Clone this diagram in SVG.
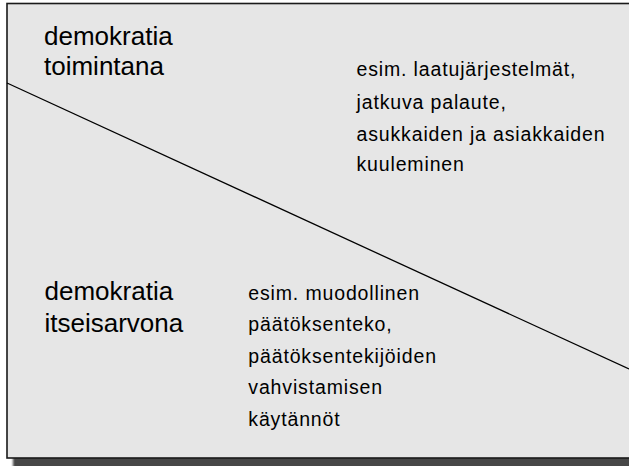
<svg xmlns="http://www.w3.org/2000/svg" width="629" height="466" viewBox="0 0 629 466">
  <defs>
    <filter id="softShadow" x="-5%" y="-5%" width="110%" height="110%">
      <feGaussianBlur stdDeviation="1.2"/>
    </filter>
    <style>
      .panel { fill: #e6e6e6; stroke: #1a1a1a; stroke-width: 1.6; }
      .shadow { fill: #464646; }
      .divider { stroke: #000; stroke-width: 1.3; fill: none; }
      .title { font-family: "Liberation Sans", Arial, sans-serif; font-size: 26px; fill: #000; }
      .note { font-family: "Liberation Sans", Arial, sans-serif; font-size: 19.5px; letter-spacing: 0.85px; fill: #000; }
    </style>
  </defs>

  <!-- panel with drop shadow -->
  <rect class="shadow" x="13" y="9" width="640" height="460" filter="url(#softShadow)"/>
  <rect class="panel" x="7" y="3.5" width="640" height="454.5"/>

  <!-- diagonal divider -->
  <g id="connectors">
    <line class="divider" x1="7" y1="83" x2="629" y2="369"/>
  </g>

  <g id="upper-title">
    <text class="title" x="44" y="44.5">demokratia</text>
    <text class="title" x="44" y="74.5">toimintana</text>
  </g>

  <g id="upper-examples">
    <text class="note" x="356.5" y="76">esim. laatujärjestelmät,</text>
    <text class="note" x="356.5" y="109">jatkuva palaute,</text>
    <text class="note" x="356.5" y="140.5">asukkaiden ja asiakkaiden</text>
    <text class="note" x="356.5" y="171">kuuleminen</text>
  </g>

  <g id="lower-title">
    <text class="title" x="44.5" y="299.5">demokratia</text>
    <text class="title" x="44.5" y="332">itseisarvona</text>
  </g>

  <g id="lower-examples">
    <text class="note" x="248.3" y="299.5">esim. muodollinen</text>
    <text class="note" x="248.3" y="331">päätöksenteko,</text>
    <text class="note" x="248.3" y="362.5">päätöksentekijöiden</text>
    <text class="note" x="248.3" y="394">vahvistamisen</text>
    <text class="note" x="248.3" y="425.5">käytännöt</text>
  </g>
</svg>
